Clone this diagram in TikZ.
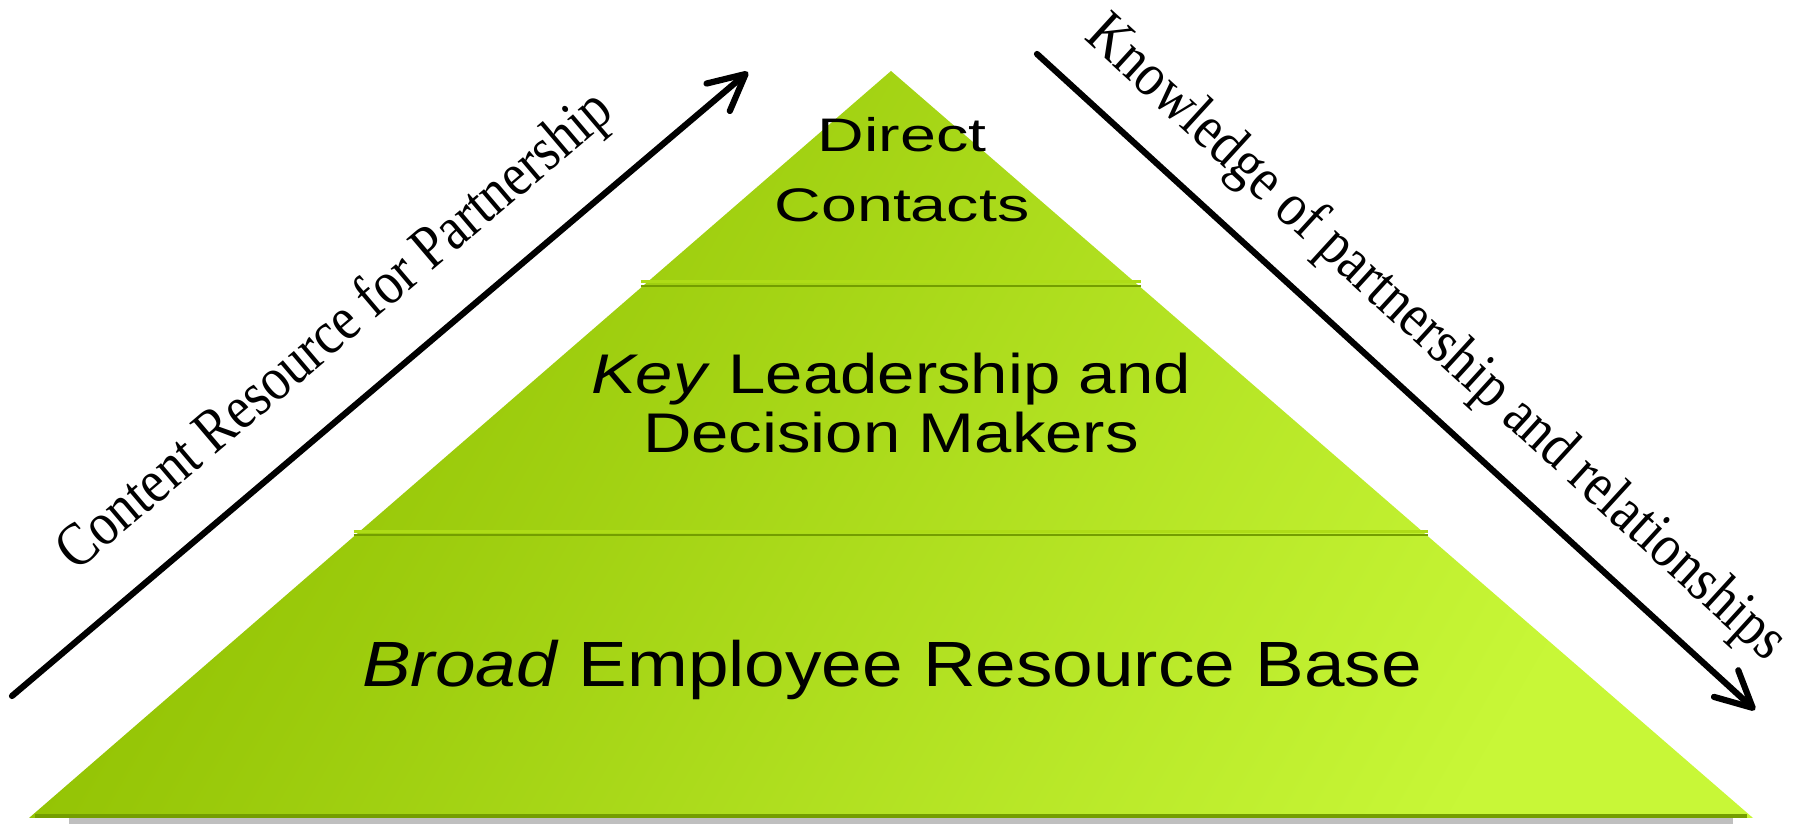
\documentclass[tikz,border=0pt]{standalone}
\usepackage{fontspec}
\setmainfont{Liberation Serif}
\setsansfont{Liberation Sans}
\usetikzlibrary{arrows.meta,calc}

\definecolor{pyrdark}{RGB}{143,191,0}
\definecolor{pyrlight}{RGB}{200,247,55}
\definecolor{pyredge}{RGB}{116,158,0}
\definecolor{pyrshine}{RGB}{174,220,22}

\tikzset{
  sidearrow/.style={line width=0.62mm, line cap=round, -{Straight Barb[length=3.6mm,width=3.6mm,round]}},
  sidelabel/.style={midway, sloped, inner sep=0pt, font=\fontsize{17.5}{20}\selectfont},
  layerlabel/.style={font=\sffamily, align=center, inner sep=0pt, transform shape},
}

\begin{document}
\begin{tikzpicture}[x=0.1mm, y=-0.1mm]
  \fill[white] (0,0) rectangle (1810,826);
  \useasboundingbox (0,0) rectangle (1810,826);

  % pyramid corners
  \coordinate (apex) at (891,71);
  \coordinate (baseL) at (29,818);
  \coordinate (baseR) at (1753,818);
  \coordinate (topL) at ($(apex)!0.2878!(baseL)$);
  \coordinate (topR) at ($(apex)!0.2878!(baseR)$);
  \coordinate (midL) at ($(apex)!0.6212!(baseL)$);
  \coordinate (midR) at ($(apex)!0.6212!(baseR)$);

  % shadow and body
  \fill[black!25] ($(baseL)+(40,0)$) rectangle ($(baseR)+(-20,6)$);
  \shade[top color=pyrdark, middle color=pyrdark, bottom color=pyrlight, shading angle=60] (apex) -- (baseR) -- (baseL) -- cycle;
  \draw[pyredge, line width=0.4mm] ($(baseL)+(6,-2)$) -- ($(baseR)+(-6,-2)$);

  % layer borders
  \draw[pyrshine, line width=0.3mm] ($(topL)+(-2,-4)$) -- ($(topR)+(2,-4)$);
  \draw[pyredge, line width=0.25mm] ($(topL)+(-2,0)$) -- ($(topR)+(2,0)$);
  \draw[pyrshine, line width=0.3mm] ($(midL)+(-2,-4)$) -- ($(midR)+(2,-4)$);
  \draw[pyredge, line width=0.25mm] ($(midL)+(-2,0)$) -- ($(midR)+(2,0)$);

  \node[layerlabel, font=\sffamily\fontsize{13.4}{19.9}\selectfont, xscale=1.37] (direct) at (902,170) {Direct\\Contacts};
  \node[layerlabel, font=\sffamily\fontsize{15.9}{16.8}\selectfont, xscale=1.2] (leaders) at (891,403) {\textit{Key} Leadership and\\Decision Makers};
  \node[layerlabel, font=\sffamily\fontsize{18.2}{20}\selectfont, xscale=1.14, anchor=base] (broad) at (892,687) {\textit{Broad} Employee Resource Base};

  % side arrows
  \coordinate (upS) at (12,696);
  \coordinate (upE) at (748,72);
  \coordinate (downS) at (1037,54);
  \coordinate (downE) at (1755,710);
  \draw[sidearrow] (upS) -- (upE) node[sidelabel, above=3.6mm] (content) {\scalebox{0.86}[1]{Content Resource for Partnership}};
  \draw[sidearrow] (downS) -- (downE) node[sidelabel, above=2.6mm] (knowledge) {\scalebox{0.86}[1]{Knowledge of partnership and relationships}};
\end{tikzpicture}
\end{document}
